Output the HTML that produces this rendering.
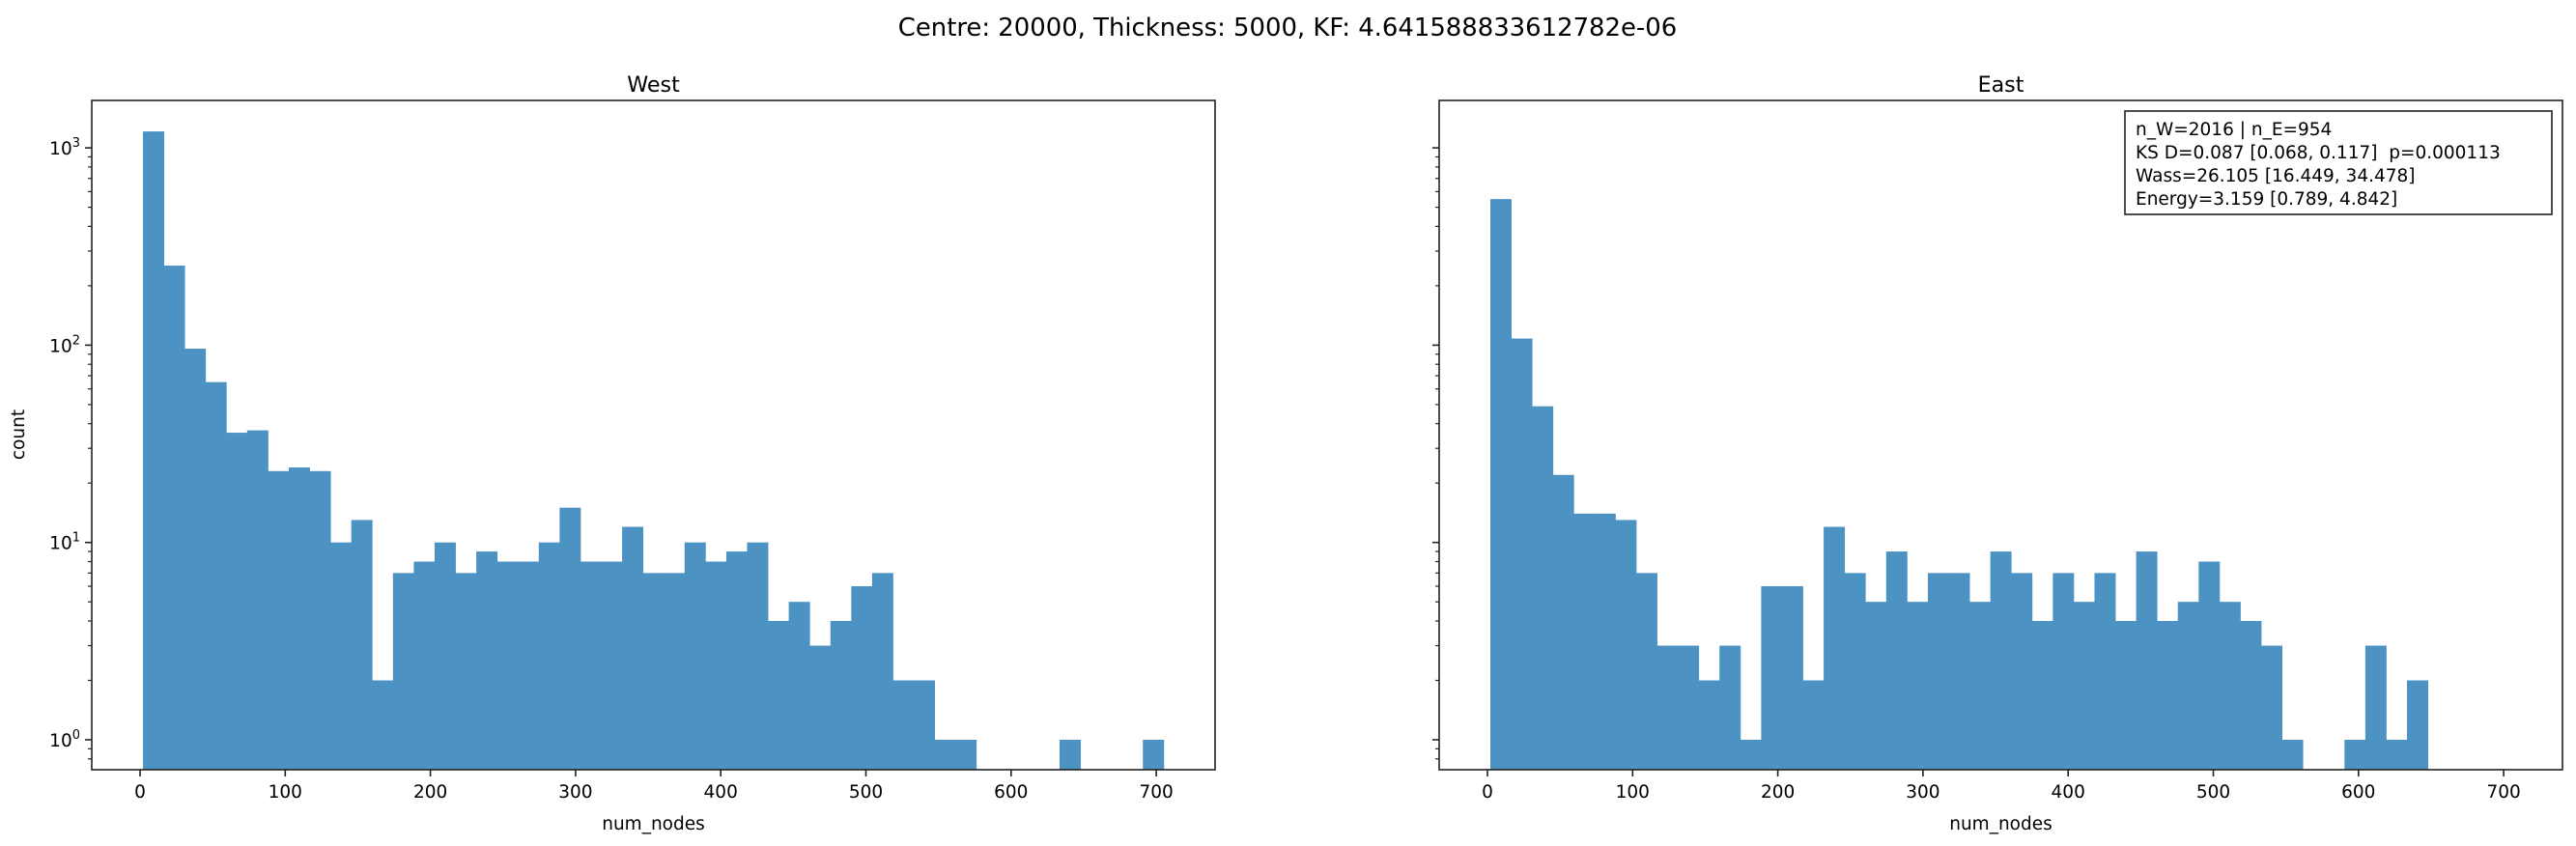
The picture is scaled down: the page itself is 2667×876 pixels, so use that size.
<!DOCTYPE html>
<html><head><meta charset="utf-8"><style>
html,body{margin:0;padding:0;background:#fff}
svg{display:block;font-family:"DejaVu Sans","Liberation Sans",sans-serif}
</style></head><body>
<svg id="fig" width="2667" height="876" viewBox="0 0 2667 876" xmlns="http://www.w3.org/2000/svg">
<rect width="2667" height="876" fill="#fff"/>
<text x="1333" y="37" font-size="25.9" text-anchor="middle">Centre: 20000, Thickness: 5000, KF: 4.641588833612782e-06</text>
<g id="west"></g>
<g id="east"></g>
<g>
<rect x="2200" y="115" width="442" height="107" fill="#fff" stroke="#222" stroke-width="1.6"/>
<text x="2211" y="140" font-size="18.5" xml:space="preserve">n_W=2016 | n_E=954</text>
<text x="2211" y="164" font-size="18.5" xml:space="preserve">KS D=0.087 [0.068, 0.117]  p=0.000113</text>
<text x="2211" y="188" font-size="18.5" xml:space="preserve">Wass=26.105 [16.449, 34.478]</text>
<text x="2211" y="212" font-size="18.5" xml:space="preserve">Energy=3.159 [0.789, 4.842]</text>
</g>
</svg>
<script>
const westCounts = [1211,253,96,65,36,37,23,24,23,10,13,2,7,8,10,7,9,8,8,10,15,8,8,12,7,7,10,8,9,10,4,5,3,4,6,7,2,2,1,1,0,0,0,0,1,0,0,0,1];
const eastCounts = [550,108,49,22,14,14,13,7,3,3,2,3,1,6,6,2,12,7,5,9,5,7,7,5,9,7,4,7,5,7,4,9,4,5,8,5,4,3,1,0,0,1,3,1,2];
const binStart = 2.0;
const binWidth = 14.35;
const xTicks = [0,100,200,300,400,500,600,700];
const yDecades = [0,1,2,3];
const NS='http://www.w3.org/2000/svg';
const TOP=104, BOT=797, Y0=766, DEC=204.3;
function yScale(v){return Y0 - Math.log10(v)*DEC;}
function mk(tag,attrs,parent){const e=document.createElementNS(NS,tag);for(const k in attrs)e.setAttribute(k,attrs[k]);parent.appendChild(e);return e;}
function panel(g,left,right,zeroX,counts,title,showYLabels){
  const xs=v=>zeroX+v*1.503;
  counts.forEach((c,i)=>{
    if(c<=0)return;
    const x0=xs(binStart+i*binWidth), x1=xs(binStart+(i+1)*binWidth);
    const y=yScale(c);
    const r=mk('rect',{x:x0,y:y,width:x1-x0+0.4,height:BOT-y,fill:'#4c92c3'},g);
    
    
  });
  const f=mk('rect',{x:left,y:TOP,width:right-left,height:BOT-TOP,fill:'none',stroke:'#222','stroke-width':1.6},g);
  
  
  xTicks.forEach(t=>{
    const x=xs(t);
    mk('line',{x1:x,x2:x,y1:BOT,y2:BOT+7,stroke:'#222','stroke-width':1.6},g);
    const tx=mk('text',{x:x,y:BOT+29,'font-size':18.5,'text-anchor':'middle'},g);
    tx.textContent=t;
    
    
  });
  for(let d=-1;d<=3;d++){
    for(let m=1;m<=9;m++){
      const v=m*Math.pow(10,d), y=yScale(v);
      if(y<TOP||y>BOT)continue;
      const major=(m===1);
      mk('line',{x1:left,x2:left-(major?7:4),y1:y,y2:y,stroke:'#222','stroke-width':major?1.6:1.2},g);
    }
  }
  if(showYLabels){
    yDecades.forEach(d=>{
      const y=yScale(Math.pow(10,d));
      const tx=mk('text',{x:left-12,y:y+7,'font-size':18.5,'text-anchor':'end'},g);
      
      
      tx.appendChild(document.createTextNode('10'));
      const s=mk('tspan',{dy:-8,'font-size':13},tx);
      s.textContent=d;
    });
  }
  const tt=mk('text',{x:(left+right)/2,y:95,'font-size':22.2,'text-anchor':'middle'},g);
  tt.textContent=title;
  
  
  const xl=mk('text',{x:(left+right)/2,y:859,'font-size':18.5,'text-anchor':'middle'},g);
  xl.textContent='num_nodes';
  
  
}
panel(document.getElementById('west'),95,1258,145,westCounts,'West',true);
panel(document.getElementById('east'),1490,2653,1540,eastCounts,'East',false);
const yl=mk('text',{x:0,y:0,'font-size':18.5,'text-anchor':'middle',transform:'translate(25,450) rotate(-90)'},document.getElementById('west'));
yl.textContent='count';


</script>
</body></html>
